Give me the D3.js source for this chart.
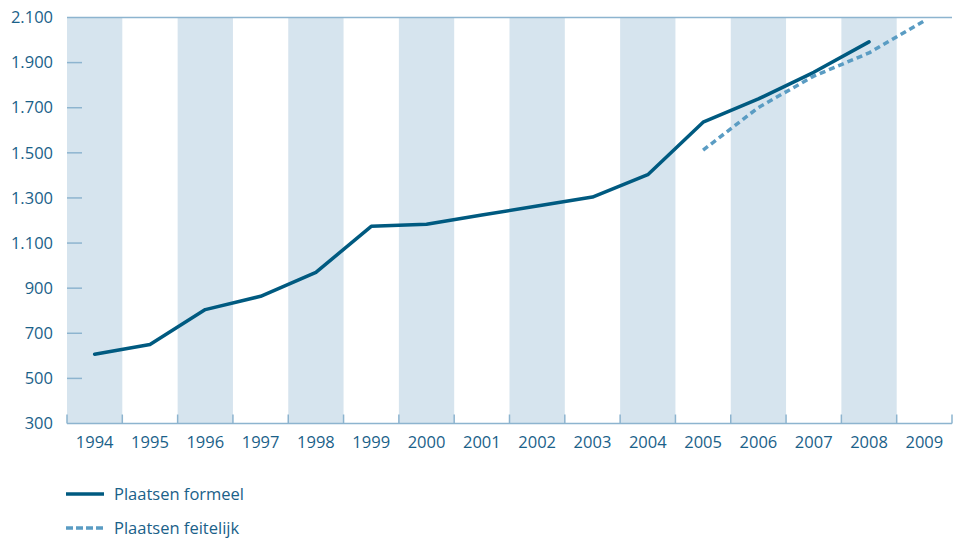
<!DOCTYPE html>
<html><head><meta charset="utf-8">
<script src="https://cdn.jsdelivr.net/npm/d3@7"></script>
<style>body{margin:0;background:#fff}svg{display:block}text{font-family:"Open Sans","DejaVu Sans",sans-serif}</style>
</head><body><svg id="c" width="953" height="543"></svg>
<script>
const years = ["1994","1995","1996","1997","1998","1999","2000","2001","2002","2003","2004","2005","2006","2007","2008","2009"];
const formeelYears = ["1994","1995","1996","1997","1998","1999","2000","2001","2002","2003","2004","2005","2006","2007","2008"];
const formeel = [607,650,805,864,970,1174,1183,1224,1264,1304,1403,1636,1739,1857,1992];
const feitelijkYears = ["2005","2006","2007","2008","2009"];
const feitelijk = [1512,1701,1840,1943,2085];
const yTicks = [300,500,700,900,1100,1300,1500,1700,1900,2100];
const legendLabels = ["Plaatsen formeel","Plaatsen feitelijk"];

const svg = d3.select("#c");
const L = 67, R = 952, T = 17.5, B = 423.5;
const x = d3.scaleBand().domain(years).range([L, R]).padding(0);
const y = d3.scaleLinear().domain([300, 2100]).range([B, T]);
const loc = d3.formatLocale({decimal: ",", thousands: ".", grouping: [3], currency: ["€", ""]});
const fmt = loc.format(",d");
const textCol = "#1a6189", axisCol = "#8db4cf";
const fs = 16.5;

// bands
svg.append("g").selectAll("rect").data(years.filter((d,i)=>i%2===0)).join("rect")
  .attr("x", d=>x(d)).attr("y", T).attr("width", x.bandwidth()).attr("height", B-T)
  .attr("fill", "#d6e4ee");

// top gridline
svg.append("line").attr("x1", L).attr("x2", R).attr("y1", y(2100)).attr("y2", y(2100))
  .attr("stroke", axisCol).attr("stroke-width", 1.5);

// y ticks
const yg = svg.append("g");
yg.selectAll("line").data(yTicks.filter(d=>d>300 && d<2100)).join("line")
  .attr("x1", L).attr("x2", L+15).attr("y1", d=>y(d)).attr("y2", d=>y(d))
  .attr("stroke", axisCol).attr("stroke-width", 1.5);
yg.selectAll("text").data(yTicks).join("text")
  .attr("x", 53).attr("y", d=>y(d)).attr("dy", "0.35em").attr("text-anchor", "end")
  .attr("fill", textCol).attr("font-size", fs).text(d=>fmt(d));

// x axis
const xg = svg.append("g");
xg.append("line").attr("x1", L).attr("x2", R).attr("y1", B).attr("y2", B)
  .attr("stroke", axisCol).attr("stroke-width", 1.5);
const bounds = years.map(d=>x(d)).concat([R]);
xg.selectAll("line.t").data(bounds).join("line").attr("class","t")
  .attr("x1", d=>d).attr("x2", d=>d).attr("y1", B-9).attr("y2", B)
  .attr("stroke", axisCol).attr("stroke-width", 1.5);
xg.selectAll("text").data(years).join("text")
  .attr("x", d=>x(d)+x.bandwidth()/2).attr("y", 442).attr("dy", "0.35em")
  .attr("text-anchor", "middle").attr("fill", textCol).attr("font-size", fs).text(d=>d);

const line = d3.line().x(d=>x(d[0])+x.bandwidth()/2).y(d=>y(d[1]));
svg.append("path").datum(formeelYears.map((d,i)=>[d, formeel[i]]))
  .attr("d", line).attr("fill","none").attr("stroke","#005a80").attr("stroke-width",3.5)
  .attr("stroke-linecap","round").attr("stroke-linejoin","round");
svg.append("path").datum(feitelijkYears.map((d,i)=>[d, feitelijk[i]]))
  .attr("d", line).attr("fill","none").attr("stroke","#5a9cc3").attr("stroke-width",3.5)
  .attr("stroke-dasharray","6,4").attr("stroke-linecap","butt").attr("stroke-linejoin","round");

// legend
const lg = svg.append("g");
const ly = [494, 528];
lg.append("line").attr("x1",66).attr("x2",104).attr("y1",ly[0]).attr("y2",ly[0])
  .attr("stroke","#005a80").attr("stroke-width",3.5);
lg.append("line").attr("x1",66).attr("x2",104).attr("y1",ly[1]).attr("y2",ly[1])
  .attr("stroke","#5a9cc3").attr("stroke-width",3.5).attr("stroke-dasharray","7,3");
lg.selectAll("text").data(legendLabels).join("text")
  .attr("x",114).attr("y",(d,i)=>ly[i]).attr("dy","0.35em")
  .attr("fill",textCol).attr("font-size",fs).text(d=>d);
</script></body></html>
